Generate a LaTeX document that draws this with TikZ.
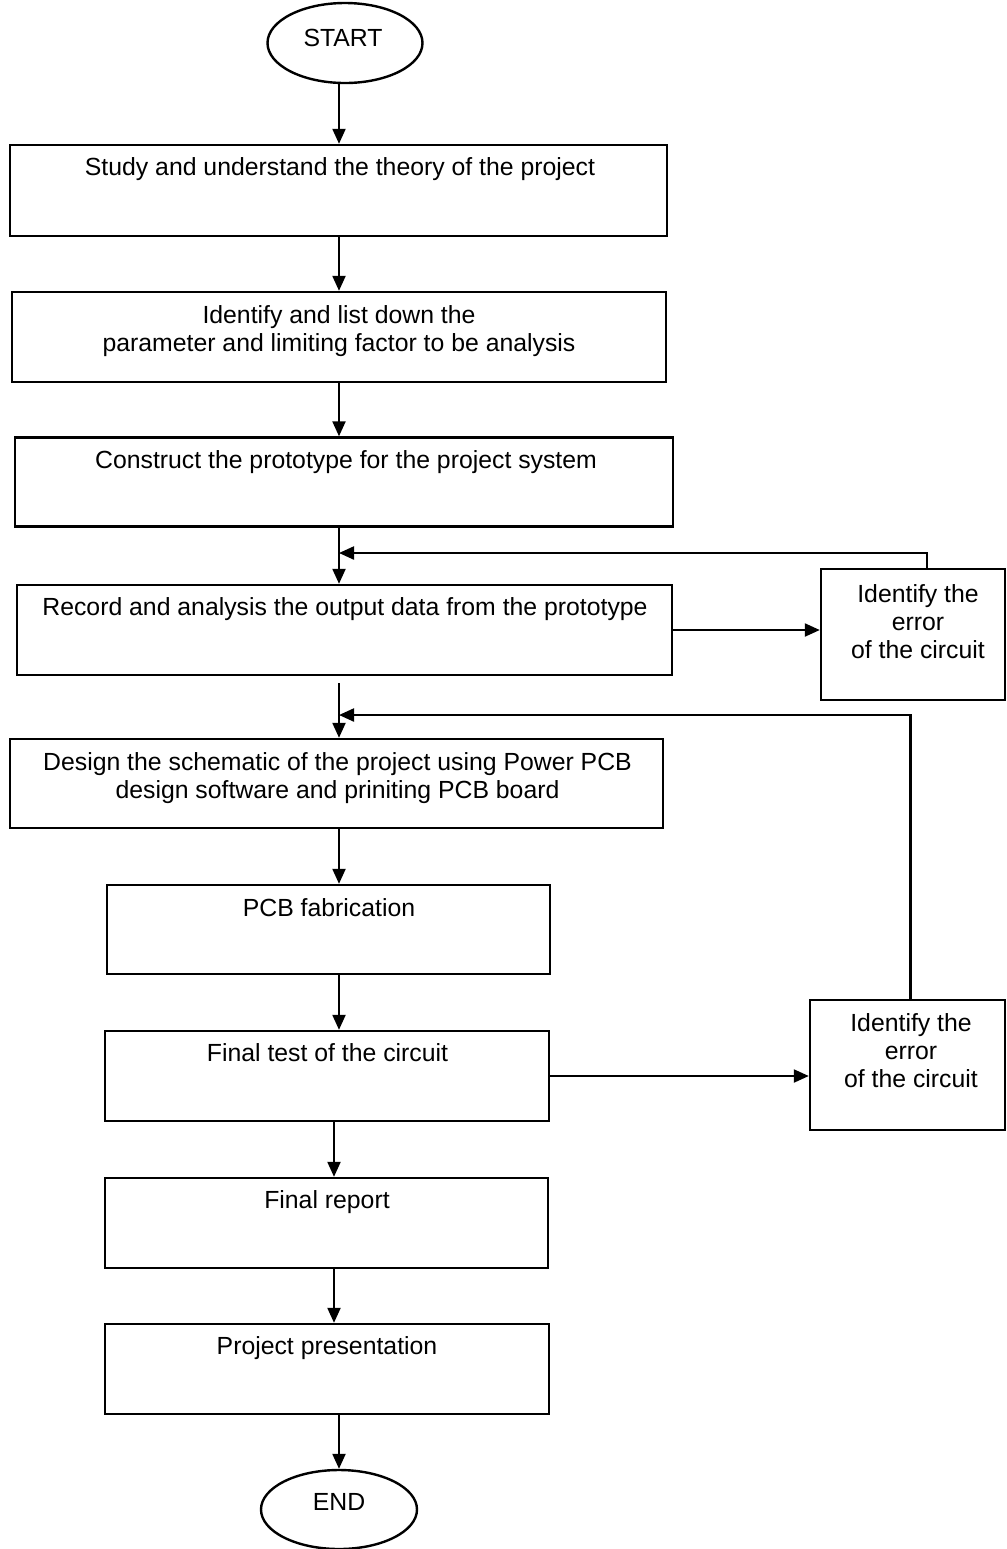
\documentclass[tikz,border=0pt]{standalone}
\usepackage{fontspec}
\setmainfont{Liberation Sans}
\usetikzlibrary{arrows.meta,calc,shapes.geometric}
\begin{document}
\begin{tikzpicture}[x=0.5pt,y=-0.5pt,
  box/.style={draw, line width=1.2pt, rectangle, inner sep=0pt},
  oval/.style={draw, line width=1.2pt, ellipse, inner sep=0pt},
  txt/.style={anchor=north, inner sep=0pt, align=center, font=\fontsize{12.4}{14}\selectfont},
  arr/.style={line width=1.1pt, -{Triangle[length=7.5pt,width=6.5pt]}},
  ln/.style={line width=1.1pt}]
\useasboundingbox (0,0) rectangle (1007,1549);
\fill[white] (0,0) rectangle (1007,1549);
% nodes
\node[oval, minimum width=77.5pt, minimum height=40pt] (start) at (345,43) {};
\node[txt] (tstart) at (343,29) {START};
\node[box, minimum width=328.5pt, minimum height=45.5pt] (b1) at (338.5,190.5) {};
\node[txt] (t1) at (340,157) {Study and understand the theory of the project};
\node[box, minimum width=327pt, minimum height=45pt] (b2) at (339,337) {};
\node[txt] (t2) at (339,305) {Identify and list down the\\parameter and limiting factor to be analysis};
\node[box, minimum width=329pt, minimum height=44.5pt] (b3) at (344,482) {};
\node[txt] (t3) at (346,450) {Construct the prototype for the project system};
\node[box, minimum width=327.5pt, minimum height=45pt] (b4) at (344.5,630) {};
\node[txt] (t4) at (345,597) {Record and analysis the output data from the prototype};
\node[box, minimum width=92pt, minimum height=65.5pt] (r1) at (913,634.5) {};
\node[txt] (tr1) at (918,584) {Identify the\\error\\of the circuit};
\node[box, minimum width=326.5pt, minimum height=44.5pt] (b5) at (336.5,783.5) {};
\node[txt] (t5) at (337.5,752) {Design the schematic of the project using Power PCB\\design software and priniting PCB board};
\node[box, minimum width=221.5pt, minimum height=44.5pt] (b6) at (328.5,929.5) {};
\node[txt] (t6) at (329,898) {PCB fabrication};
\node[box, minimum width=222pt, minimum height=45pt] (b7) at (327,1076) {};
\node[txt] (t7) at (327.5,1043) {Final test of the circuit};
\node[box, minimum width=97.5pt, minimum height=65pt] (r2) at (907.5,1065) {};
\node[txt] (tr2) at (911,1013) {Identify the\\error\\of the circuit};
\node[box, minimum width=221.5pt, minimum height=45pt] (b8) at (326.5,1223) {};
\node[txt] (t8) at (327,1190) {Final report};
\node[box, minimum width=222pt, minimum height=45pt] (b9) at (327,1369) {};
\node[txt] (t9) at (327,1336) {Project presentation};
\node[oval, minimum width=78pt, minimum height=39.5pt] (end) at (339,1509.5) {};
\node[txt] (tend) at (339,1493) {END};
% spine coordinates
\coordinate (sp) at (339,0);
\coordinate (sq) at (334,0);
\coordinate (g4) at ($(b4.south -| sp)+(0,7)$);
\coordinate (j1) at (339,553);
\coordinate (j2) at (339,715);
\coordinate (f1) at ($(r1.north)+(14,0)$);
\coordinate (f2) at ($(r2.north)+(3,0)$);
% connectors
\draw[arr] (start.south -| sp) -- (b1.north -| sp);
\draw[arr] (b1.south -| sp) -- (b2.north -| sp);
\draw[arr] (b2.south -| sp) -- (b3.north -| sp);
\draw[arr] (b3.south -| sp) -- (b4.north -| sp);
\draw[arr] (g4) -- (b5.north -| sp);
\draw[arr] (b5.south -| sp) -- (b6.north -| sp);
\draw[arr] (b6.south -| sp) -- (b7.north -| sp);
\draw[arr] (b7.south -| sq) -- (b8.north -| sq);
\draw[arr] (b8.south -| sq) -- (b9.north -| sq);
\draw[arr] (b9.south -| sp) -- (end.north -| sp);
\draw[arr] (b4.east) -- (b4.east -| r1.west);
\draw[arr] (b7.east) -- (b7.east -| r2.west);
\draw[arr] (f1) |- (j1);
\draw[arr] (f2) |- (j2);
\end{tikzpicture}
\end{document}
